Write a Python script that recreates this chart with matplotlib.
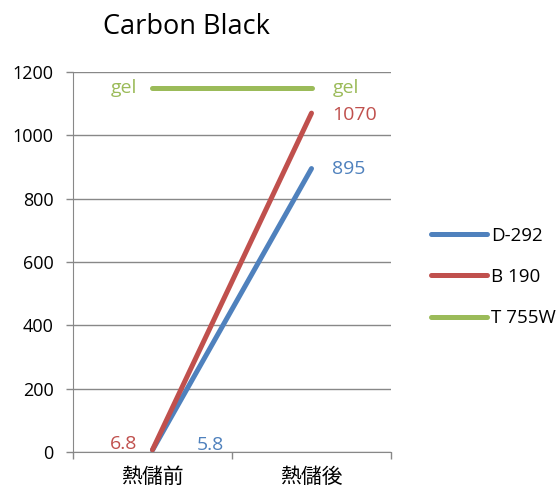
import matplotlib
matplotlib.use("Agg")
import matplotlib.pyplot as plt

plt.rcParams['font.family'] = ['Open Sans', 'Noto Sans CJK JP', 'DejaVu Sans']

categories = ['熱儲前', '熱儲後']
series_names = ['D-292', 'B 190', 'T 755W']
d292 = [5.8, 895]
b190 = [6.8, 1070]
t755w = [1150, 1150]
colors = ['#4F81BD', '#C0504D', '#9BBB59']

fig = plt.figure(figsize=(5.57, 4.9), dpi=100)
ax = fig.add_axes([0.131, 0.0776, 0.571, 0.7755])

x = list(range(len(categories)))
for vals, name, c in zip([d292, b190, t755w], series_names, colors):
    ax.plot(x, vals, color=c, lw=3.6, solid_capstyle='round', label=name)

# data labels
lab = dict(textcoords='offset points', va='center', fontsize=14)
ax.annotate('gel', (0, t755w[0]), xytext=(-11, 0), ha='right', color=colors[2], **lab)
ax.annotate('gel', (1, t755w[1]), xytext=(15, 0), ha='left', color=colors[2], **lab)
ax.annotate('1070', (1, b190[1]), xytext=(15, -1.5), ha='left', color=colors[1], **lab)
ax.annotate('895', (1, d292[1]), xytext=(15, 0), ha='left', color=colors[0], **lab)
ax.annotate('6.8', (0, b190[0]), xytext=(-11, 4), ha='right', color=colors[1], **lab)
ax.annotate('5.8', (0, d292[0]), xytext=(32, 4), ha='left', color=colors[0], **lab)

ax.set_xlim(-0.5, 1.5)
ax.set_ylim(0, 1200)
ax.set_yticks(range(0, 1201, 200))
ax.set_xticks(x)
ax.set_xticklabels(categories)
ax.set_xticks([-0.5, 0.5, 1.5], minor=True)
ax.tick_params(axis='x', which='major', length=0, pad=11, labelsize=15)
ax.tick_params(axis='x', which='minor', length=5, color='#888888', width=1)
ax.tick_params(axis='y', length=5, color='#888888', width=1, labelsize=13, pad=9)
ax.grid(axis='y', color='#888888', lw=1)
ax.set_axisbelow(True)
for s in ['top', 'right']:
    ax.spines[s].set_visible(False)
for s in ['left', 'bottom']:
    ax.spines[s].set_color('#888888')

fig.text(103 / 557, 1 - 27 / 490, 'Carbon Black', fontsize=19.5, ha='left', va='center')

fig.legend(loc='center left', bbox_to_anchor=(0.743, 0.435), frameon=False,
           fontsize=13.5, handlelength=3.0, handletextpad=0.2, labelspacing=1.24)

fig.savefig('out.png', dpi=100)
